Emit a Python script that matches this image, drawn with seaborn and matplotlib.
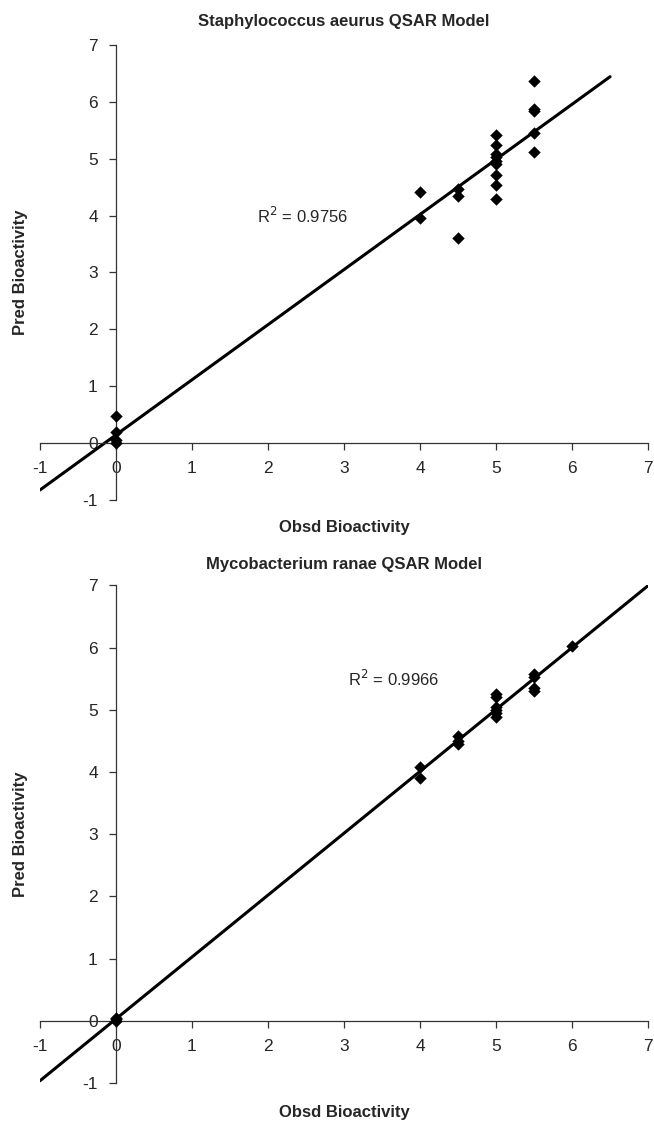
import numpy as np
import pandas as pd
import matplotlib
matplotlib.use("Agg")
import matplotlib.pyplot as plt
import seaborn as sns

# Staphylococcus aeurus model: observed vs predicted bioactivity
staph_obsd = [0, 0, 0, 0,
              4, 4,
              4.5, 4.5, 4.5,
              5, 5, 5, 5, 5, 5, 5, 5, 5,
              5.5, 5.5, 5.5, 5.5, 5.5]
staph_pred = [0.0, 0.05, 0.2, 0.48,
              4.42, 3.96,
              4.47, 4.35, 3.61,
              5.41, 5.24, 5.08, 5.03, 4.96, 4.91, 4.71, 4.54, 4.30,
              6.37, 5.88, 5.84, 5.46, 5.12]
staph_r2 = "R$^2$ = 0.9756"
staph_trend_x = [-1, 6.5]

# Mycobacterium ranae model
myco_obsd = [0, 0, 0,
             4, 4,
             4.5, 4.5, 4.5,
             5, 5, 5, 5, 5, 5,
             5.5, 5.5, 5.5, 5.5,
             6]
myco_pred = [0.0, 0.02, 0.05,
             4.08, 3.90,
             4.58, 4.50, 4.45,
             5.25, 5.20, 5.05, 5.00, 4.95, 4.88,
             5.58, 5.52, 5.35, 5.30,
             6.02]
myco_r2 = "R$^2$ = 0.9966"
myco_trend_x = [-1, 7]

ticks = list(range(-1, 8))

sns.set_theme(style="white")
plt.rcParams["font.family"] = ["Liberation Sans", "DejaVu Sans"]
plt.rcParams["axes.unicode_minus"] = False  # plain hyphen like the original


def draw_panel(ax, obsd, pred, trend_x, r2_text, r2_pos, title, title_pad, xlab_y):
    df = pd.DataFrame({"obsd": obsd, "pred": pred})
    # linear trendline fitted to the points (Excel style, extended past data)
    slope, intercept = np.polyfit(df["obsd"], df["pred"], 1)
    trend = pd.DataFrame({"x": trend_x})
    trend["y"] = slope * trend["x"] + intercept
    sns.lineplot(data=trend, x="x", y="y", ax=ax, color="black", linewidth=2.2)
    sns.scatterplot(data=df, x="obsd", y="pred", ax=ax, marker="D", s=40,
                    color="black", edgecolor="black", linewidth=0, zorder=3)

    ax.set_xlim(-1, 7)
    ax.set_ylim(-1, 7)
    ax.set_xticks(ticks)
    ax.set_yticks(ticks)
    ax.spines["left"].set_position(("data", 0))
    ax.spines["bottom"].set_position(("data", 0))
    ax.spines["top"].set_visible(False)
    ax.spines["right"].set_visible(False)
    for side in ("left", "bottom"):
        ax.spines[side].set_color("#333333")
        ax.spines[side].set_linewidth(0.9)
    ax.tick_params(direction="out", length=5, width=0.9, color="#333333",
                   labelsize=12.5, pad=8, bottom=True, left=True)

    ax.set_title(title, fontsize=12, fontweight="bold", pad=title_pad)
    ax.set_xlabel("Obsd Bioactivity", fontsize=12, fontweight="bold")
    ax.set_ylabel("Pred Bioactivity", fontsize=12, fontweight="bold")
    ax.xaxis.set_label_coords(0.5, xlab_y)
    ax.yaxis.set_label_coords(-0.02, 0.5)
    ax.text(r2_pos[0], r2_pos[1], r2_text, fontsize=12, ha="center", va="center")


fig = plt.figure(figsize=(6.54, 11.28), dpi=100)
ax_top = fig.add_axes([0.061, 0.557, 0.930, 0.403])
ax_bot = fig.add_axes([0.061, 0.040, 0.930, 0.441])

draw_panel(ax_top, staph_obsd, staph_pred, staph_trend_x, staph_r2, (2.45, 4.0),
           "Staphylococcus aeurus QSAR Model", 14, -0.045)
draw_panel(ax_bot, myco_obsd, myco_pred, myco_trend_x, myco_r2, (3.65, 5.5),
           "Mycobacterium ranae QSAR Model", 12, -0.045)

fig.savefig("out.png", dpi=100)
